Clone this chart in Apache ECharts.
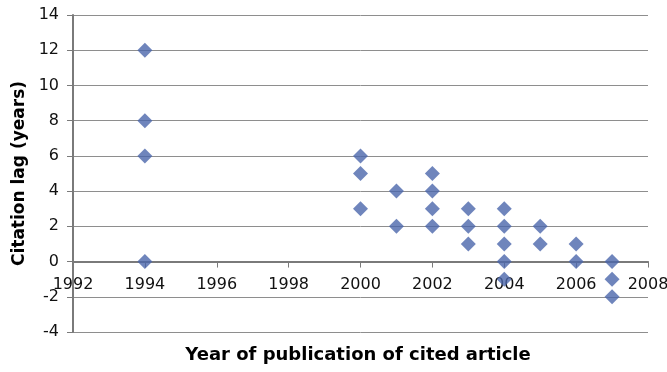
<!DOCTYPE html>
<html>
<head>
<meta charset="utf-8">
<style>
  html, body { margin: 0; padding: 0; background: #fff; }
  #chart { width: 667px; height: 372px; }
</style>
<script src="https://cdn.jsdelivr.net/npm/echarts@6/dist/echarts.min.js"></script>
</head>
<body>
<div id="chart"></div>
<script>
// Publication year of each cited article and its citation lag in years
const pubYears = [1994, 1994, 1994, 1994,
                  2000, 2000, 2000,
                  2001, 2001,
                  2002, 2002, 2002, 2002,
                  2003, 2003, 2003,
                  2004, 2004, 2004, 2004, 2004,
                  2005, 2005,
                  2006, 2006,
                  2007, 2007, 2007];
const lagYears = [12, 8, 6, 0,
                  6, 5, 3,
                  4, 2,
                  5, 4, 3, 2,
                  3, 2, 1,
                  3, 2, 1, 0, -1,
                  2, 1,
                  1, 0,
                  0, -1, -2];

const xTitle = 'Year of publication of cited article';
const yTitle = 'Citation lag (years)';

const points = pubYears.map((yr, i) => [yr, lagYears[i]]);

const font = '"DejaVu Sans", "Liberation Sans", Arial, sans-serif';
const axisGray = '#7a7a7a';
const gridGray = '#8e8e8e';

const G = { left: 73, right: 19, top: 15, bottom: 40 };

const chart = echarts.init(document.getElementById('chart'));
chart.setOption({
  animation: false,
  backgroundColor: '#ffffff',
  grid: Object.assign({ containLabel: false, outerBoundsMode: 'none' }, G),
  xAxis: {
    type: 'value',
    min: 1992, max: 2008, interval: 2,
    axisLine: { show: true, onZero: true, lineStyle: { color: axisGray, width: 2 } },
    axisTick: { show: true, inside: false, length: 6, lineStyle: { color: axisGray, width: 1 } },
    // year labels sit just under the zero line
    axisLabel: { color: '#111', fontSize: 16, fontFamily: font, margin: -55,
                 formatter: v => String(v) },
    splitLine: { show: false }
  },
  yAxis: {
    type: 'value',
    min: -4, max: 14, interval: 2,
    axisLine: { show: true, onZero: false, lineStyle: { color: axisGray, width: 2 } },
    axisTick: { show: true, length: 6, lineStyle: { color: axisGray, width: 1 } },
    axisLabel: { color: '#111', fontSize: 16, fontFamily: font, margin: 14 },
    splitLine: { show: true, lineStyle: { color: gridGray, width: 1 } },
    name: yTitle, nameLocation: 'middle', nameGap: 42, nameRotate: 90,
    nameTextStyle: { color: '#000', fontSize: 17, fontWeight: 'bold', fontFamily: font }
  },
  graphic: [{
    type: 'text',
    x: 358, y: 355,
    style: {
      text: xTitle, fill: '#000', align: 'center', verticalAlign: 'middle',
      font: 'bold 18px ' + font
    }
  }],
  series: [{
    type: 'scatter',
    symbol: 'diamond',
    symbolSize: 15,
    itemStyle: { color: '#4b67ab' },
    data: points,
    z: 5
  }]
});
</script>
</body>
</html>
